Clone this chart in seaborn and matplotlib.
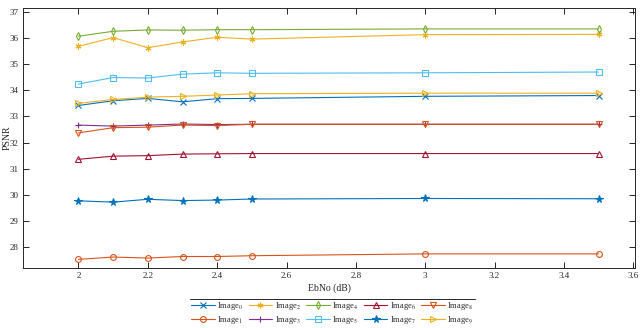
import pandas as pd
import seaborn as sns
import matplotlib.pyplot as plt
from matplotlib.lines import Line2D

# EbNo values (dB)
ebno = [2, 2.1, 2.2, 2.3, 2.4, 2.5, 3, 3.5]

# PSNR for each image
image0 = [33.42, 33.60, 33.69, 33.56, 33.68, 33.69, 33.77, 33.80]
image1 = [27.53, 27.62, 27.58, 27.64, 27.64, 27.67, 27.74, 27.74]
image2 = [35.68, 36.02, 35.63, 35.85, 36.03, 35.96, 36.13, 36.14]
image3 = [32.67, 32.63, 32.67, 32.71, 32.69, 32.70, 32.70, 32.70]
image4 = [36.07, 36.26, 36.31, 36.30, 36.32, 36.32, 36.35, 36.35]
image5 = [34.24, 34.49, 34.47, 34.62, 34.67, 34.65, 34.67, 34.70]
image6 = [31.36, 31.48, 31.50, 31.56, 31.57, 31.58, 31.58, 31.58]
image7 = [29.77, 29.72, 29.83, 29.78, 29.80, 29.84, 29.86, 29.85]
image8 = [32.37, 32.57, 32.59, 32.67, 32.65, 32.70, 32.70, 32.70]
image9 = [33.50, 33.65, 33.74, 33.77, 33.82, 33.87, 33.89, 33.89]

series = [image0, image1, image2, image3, image4, image5, image6, image7, image8, image9]
labels = [f"Image$_{i}$" for i in range(10)]

# MATLAB default colour order
colors = ["#0072BD", "#D95319", "#EDB120", "#7E2F8E", "#77AC30",
          "#4DBEEE", "#A2142F", "#0072BD", "#D95319", "#EDB120"]
markers = ["x", "o", (6, 2, 0), "+", "d", "s", "^", "*", "v", ">"]

sns.set_theme(style="ticks")
plt.rcParams["font.family"] = ["Liberation Serif", "DejaVu Serif"]
plt.rcParams["mathtext.fontset"] = "stix"

fig = plt.figure(figsize=(6.4, 3.28), dpi=100)
ax = fig.add_axes([23 / 640, 1 - 268 / 328, 612 / 640, 260 / 328])

for y, lab, c, m in zip(series, labels, colors, markers):
    filled = m == "*"
    sns.lineplot(x=ebno, y=y, ax=ax, color=c, marker=m, label=lab,
                 linewidth=0.8, markersize=4.2 if m != "*" else 5.5,
                 markerfacecolor=c if filled else "none",
                 markeredgecolor=c, markeredgewidth=0.8)

ax.set_xlim(1.84, 3.605)
ax.set_ylim(27.2, 37.15)
ax.set_xticks([2, 2.2, 2.4, 2.6, 2.8, 3, 3.2, 3.4, 3.6])
ax.set_xticklabels(["2", "2.2", "2.4", "2.6", "2.8", "3", "3.2", "3.4", "3.6"])
ax.set_yticks(range(28, 38))
ax.tick_params(direction="in", length=4, width=0.7, labelsize=6.5, colors="#262626",
               top=True, right=True, pad=3)
for s in ax.spines.values():
    s.set_linewidth(0.7)
    s.set_color("#262626")

ax.set_xlabel("EbNo (dB)", fontsize=7, labelpad=2)
ax.set_ylabel("PSNR", fontsize=7)
ax.yaxis.set_label_coords(-0.019, 0.5)

leg = ax.legend(ncol=5, loc="upper center", bbox_to_anchor=(0.505, -0.118),
                frameon=False, fontsize=6, handlelength=2.8, columnspacing=0.7,
                handletextpad=0.3, labelspacing=0.2, borderpad=0.2,
                borderaxespad=0)

fig.canvas.draw()
bb = leg.get_window_extent().transformed(fig.transFigure.inverted())
fig.add_artist(Line2D([bb.x0, bb.x1], [bb.y1, bb.y1], color="#262626", linewidth=0.7))

plt.savefig("out.png", dpi=100)
